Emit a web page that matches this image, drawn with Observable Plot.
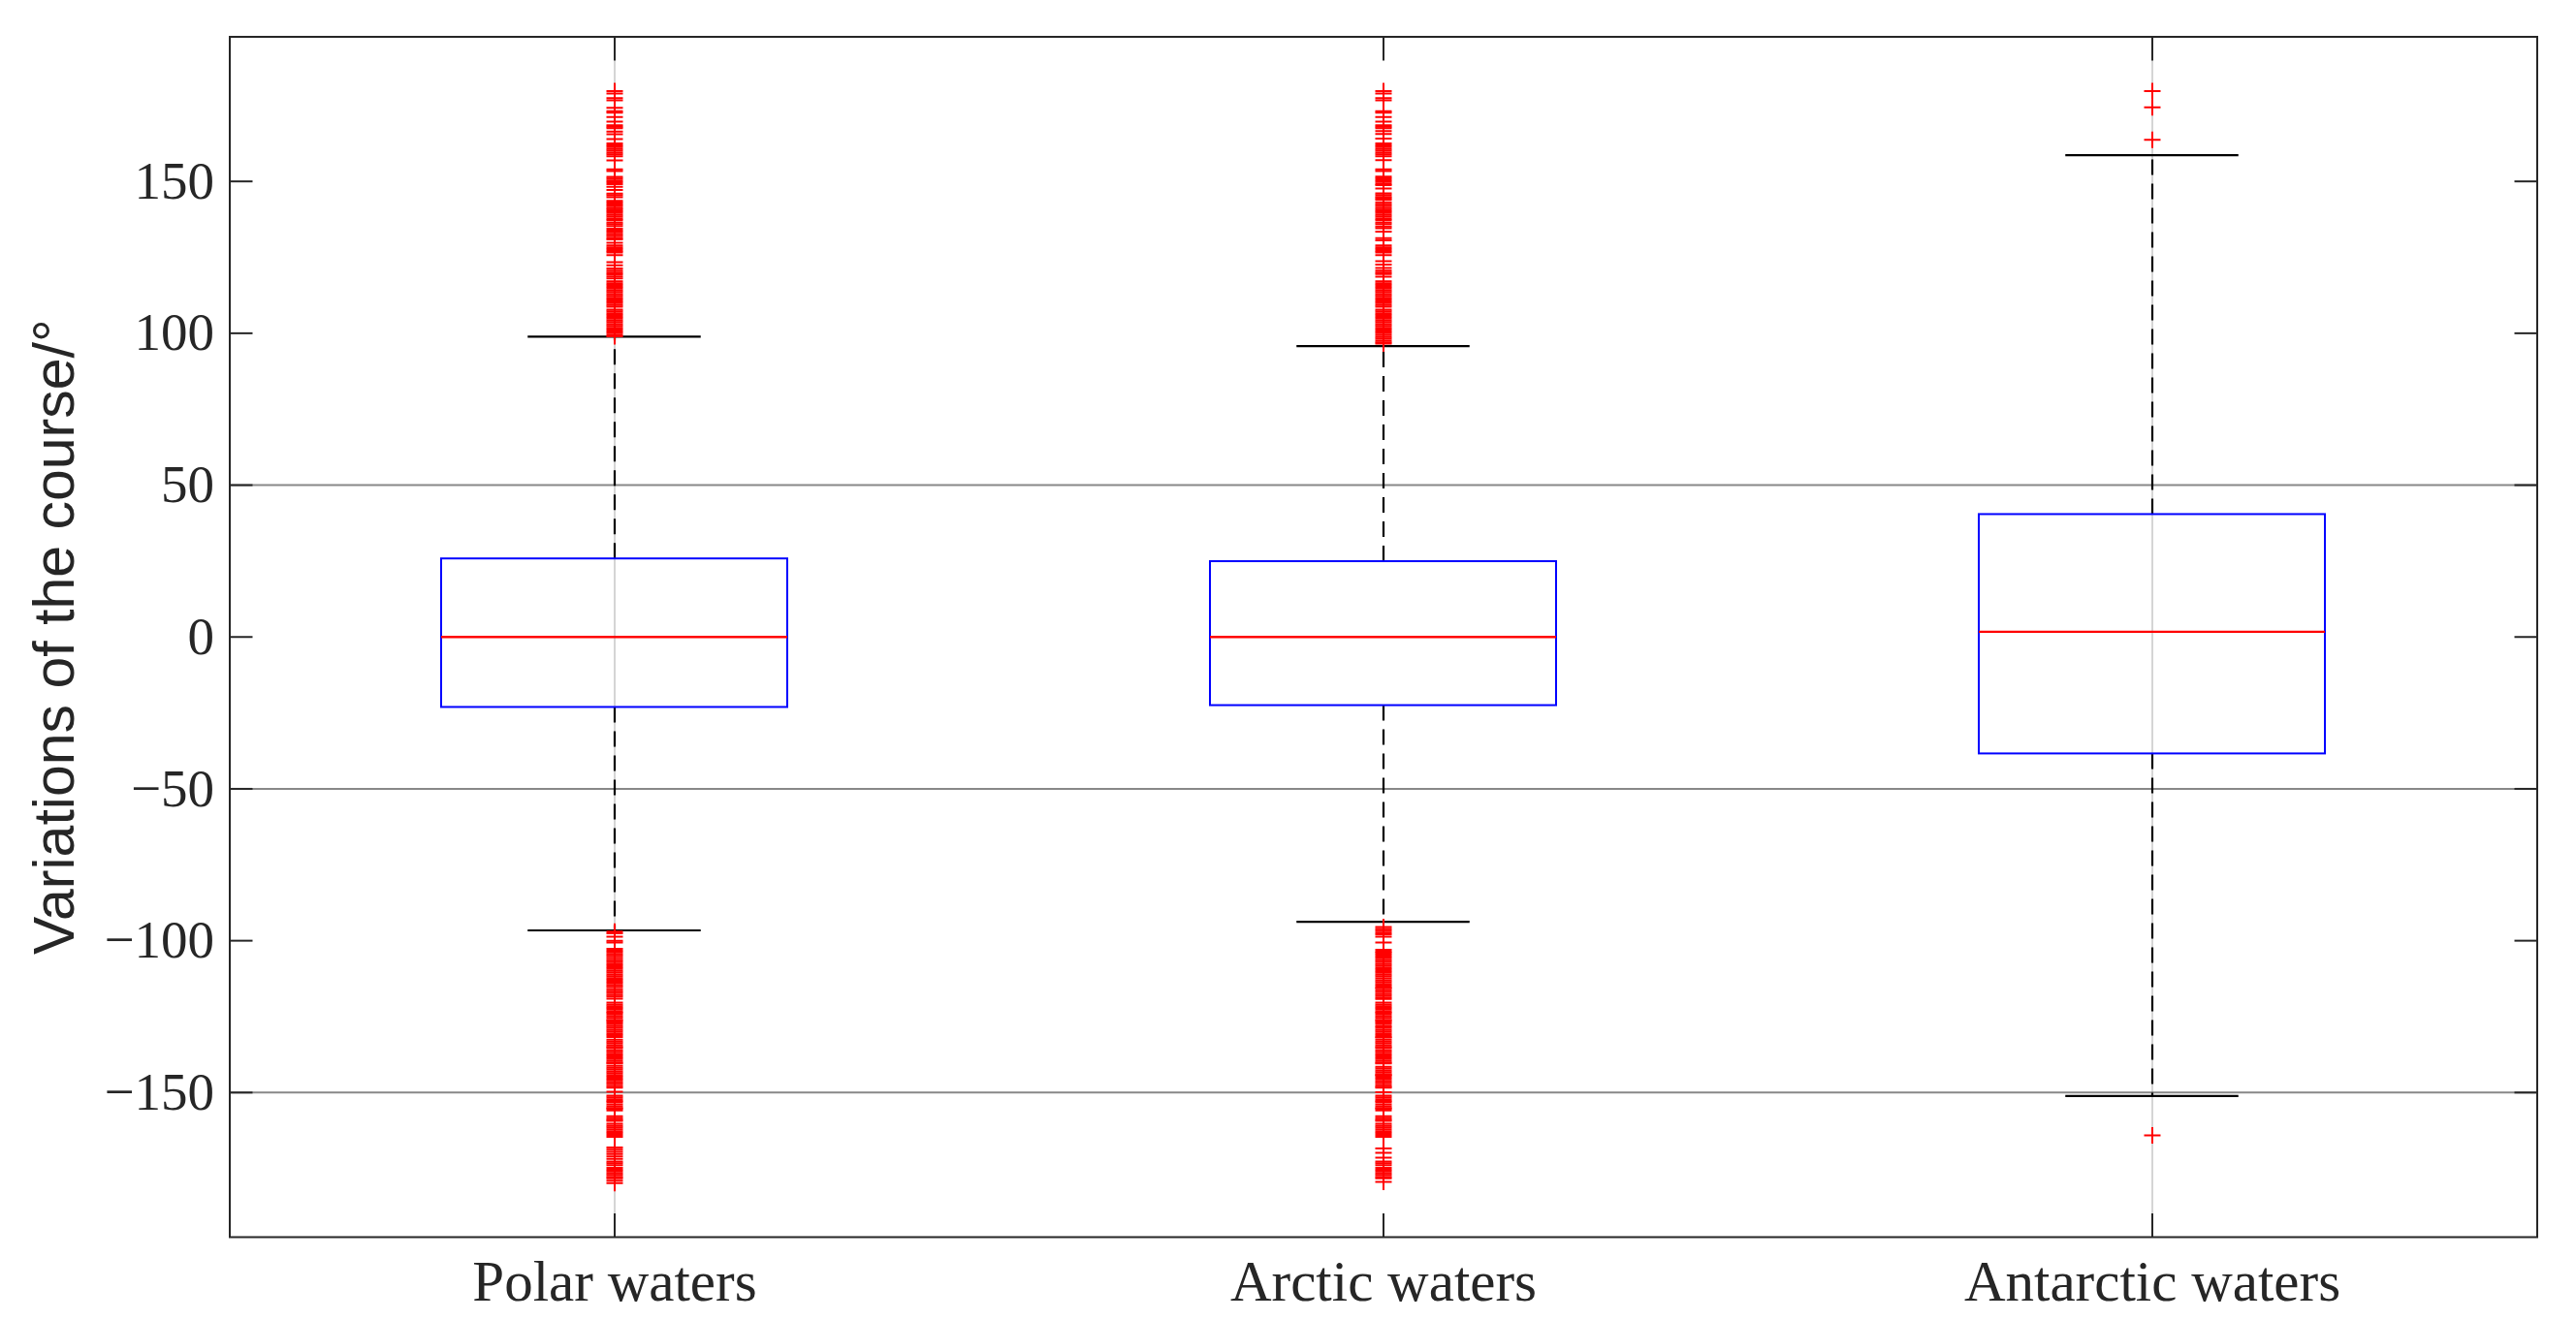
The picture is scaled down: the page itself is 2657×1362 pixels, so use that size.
<!DOCTYPE html>
<html>
<head>
<meta charset="utf-8">
<script src="https://cdn.jsdelivr.net/npm/d3@7"></script>
<script src="https://cdn.jsdelivr.net/npm/@observablehq/plot@0.6"></script>
<style>
  html, body { margin: 0; padding: 0; background: #ffffff; }
  #chart svg { display: block; }
</style>
</head>
<body>
<div id="chart"></div>
<script>
// ---------------- data ----------------
const categories = ["Polar waters", "Arctic waters", "Antarctic waters"];
const q1 = [-23.2, -22.6, -38.5];
const median = [0, 0, 1.7];
const q3 = [25.7, 24.8, 40.3];
const whiskerLow = [-96.6, -93.8, -151.1];
const whiskerHigh = [98.9, 95.8, 158.6];

const yTicks = [-150, -100, -50, 0, 50, 100, 150];
const yGridLines = [50, -50, -150];
const xGridLines = ["Polar waters", "Antarctic waters"];
const yLabel = "Variations of the course/°";

const polarOutliers = [
  179.7,178.9,177.4,176.7,174.2,173.1,172.6,171.2,169.7,168.5,168,167.5,166.4,165.5,163.9,
  162.5,161.9,161.3,160.7,160.1,159.5,158.9,158.3,156.9,154,153.4,
  151.5,150.9,150.3,149.7,149.1,148.2,147.2,146,145.4,144.8,143.6,
  143,142.4,141.8,141.2,140.7,140.2,139.6,139,138.4,137.8,137.3,136.5,135.9,135.3,
  134.4,133.8,133.2,132.6,132,131.4,130.9,129.8,128.9,128.3,127.7,127.1,126.6,
  125.7,123.4,122.4,121.3,120.6,120,119.4,118.7,118.1,
  117.1,116.5,115.9,115.3,114.7,114.1,113.5,112.9,112.3,111.7,111.1,110.5,109.9,109.3,108.7,
  107.8,107.2,106.6,106,105.4,104.8,104.2,103.6,103,102.4,101.8,101.2,100.6,100,99.4,99,
  -97,-97.6,-98.7,-100,-100.6,
  -102.7,-103.3,-103.9,-104.5,-105.1,-105.7,-106.3,-106.9,-107.5,-108.1,-108.7,-109.3,-109.9,
  -110.5,-111.1,-111.7,-112.3,-112.9,-113.5,-114.1,-114.7,-115.3,
  -116,-116.6,-117.2,-117.8,-118.4,-119.1,-120.4,-121,-121.6,-122.1,-122.7,-123.3,-123.7,
  -124.3,-124.9,-125.5,-126.1,-126.4,-126.9,-127.5,-128.1,-128.7,-129.3,-129.9,-130.5,-131.1,-131.7,
  -132.6,-133.2,-133.8,-134.4,-135,-135.3,-136,-136.6,-137.2,-137.8,-138.4,-139,-139.6,-140.2,-140.4,
  -141.2,-141.8,-142.4,-143,-143.6,-144.2,-144.8,-145.4,-146,-146.6,-147.2,-147.8,-148.4,
  -149.7,-151,-151.6,-152.2,-152.8,-153.2,-153.9,-154.5,-155.1,-155.3,-155.9,
  -157.8,-158.4,-159,-159.3,-160.3,-160.9,-161.5,-162.1,-162.7,-163.3,-163.9,-164.6,
  -168.1,-168.8,-169.5,-170.2,-171,-171.8,-172.7,-173.3,-173.9,
  -174.8,-175.4,-176,-176.6,-177.2,-177.8,-178.2,-179,-179.8
];

const arcticOutliers = [
  179.7,178.9,177.4,176.7,173.1,172.6,171.2,169.7,168.5,168,167.5,166.6,165.6,164.1,
  162.5,161.9,161.3,160.7,160.1,159.5,158.9,158.3,157,154,153.4,
  151.6,151,150.4,149.8,149.2,148.8,147.7,146.1,145.5,144.9,144.5,144,
  143.1,142.5,141.9,141.3,140.7,140.2,139.6,139,138.4,137.8,137.3,136.5,135.9,135.1,
  134.6,133.5,131.3,130.6,128.9,128.3,127.7,127.1,126.6,125.7,123.7,122.6,121.5,
  120.6,120,119.5,118.6,
  117.1,116.5,115.9,115.3,114.7,114.1,113.5,112.9,112.3,111.7,111.1,110.5,109.9,109.3,108.7,
  107.8,107.2,106.6,106,105.4,104.8,104.2,103.6,103,102.4,101.8,101.2,100.6,100,99.4,98.8,98.2,97.6,97,96.6,
  -95.5,-96.1,-96.7,-97.3,-97.9,-98.7,-100.6,-103,-103.6,
  -104,-104.6,-105.2,-105.8,-106.4,-107,-107.6,-108.2,-108.8,-109.4,-110,-110.6,-111.2,-111.8,
  -112.4,-113,-113.6,-114.2,-114.8,-115.4,-115.7,
  -116.3,-116.9,-117.5,-118.1,-118.7,-119.2,-120.4,-121,-121.6,-122.1,-122.7,-123.3,-123.7,
  -124.3,-124.9,-125.5,-126.1,-126.4,-126.9,-127.5,-128.2,
  -128.7,-129.3,-129.9,-130.5,-131.1,-131.7,-131.9,-132.6,-133.2,-133.8,-134.4,-135,-135.3,
  -136,-136.6,-137.2,-137.8,-138.4,-139,-139.6,-140.2,-140.4,
  -141.5,-142.1,-142.7,-143.3,-143.9,-144.2,-144.5,-145.1,-145.7,-146.3,-146.9,-147.5,-148.1,-148.4,
  -149.9,-151,-151.6,-152.2,-152.8,-153.2,-153.9,-154.5,-155.1,-155.3,-155.9,
  -157.8,-158.4,-159,-159.3,-160.3,-160.9,-161.5,-162.1,-162.7,-163.3,-163.9,-164.6,
  -168.4,-169.8,-171.4,-172.7,-173.3,-173.9,
  -174.8,-175.4,-176,-176.6,-177.2,-177.8,-178.2,-179.4
];

const antarcticOutliers = [179.7, 174.4, 163.7, -164.1];

// ---------------- build tables ----------------
const stats = categories.map((c, i) => ({
  cat: c, q1: q1[i], med: median[i], q3: q3[i], lo: whiskerLow[i], hi: whiskerHigh[i]
}));
const outliers = [
  ...polarOutliers.map(v => ({cat: categories[0], v})),
  ...arcticOutliers.map(v => ({cat: categories[1], v})),
  ...antarcticOutliers.map(v => ({cat: categories[2], v}))
];

// ---------------- layout ----------------
const W = 2657, H = 1362;
const mL = 236.5, mR = 40.5, mT = 37.5, mB = 86;
const step = (W - mL - mR) / categories.length;
const boxFrac = 0.45;
const capInset = step * boxFrac / 4;
const ink = "#262626";

const plusSymbol = {
  draw(ctx, size) {
    const r = Math.sqrt(size / Math.PI);
    ctx.moveTo(-r, 0); ctx.lineTo(r, 0);
    ctx.moveTo(0, -r); ctx.lineTo(0, r);
  }
};

const fmt = d => d < 0 ? "\u2212" + (-d) : String(d);

const chart = Plot.plot({
  width: W,
  height: H,
  marginLeft: mL,
  marginRight: mR,
  marginTop: mT,
  marginBottom: mB,
  style: {background: "#ffffff", overflow: "visible"},
  x: {type: "band", domain: categories, paddingInner: 1 - boxFrac, paddingOuter: (1 - boxFrac) / 2, align: 0.5},
  y: {domain: [-197.6, 197.6]},
  marks: [
    Plot.ruleY(yGridLines, {stroke: "#111", strokeWidth: 2, strokeDasharray: "1,1"}),
    Plot.ruleX(xGridLines, {stroke: "#555", strokeWidth: 1, strokeDasharray: "1,1"}),
    Plot.ruleX(stats, {x: "cat", y1: "q3", y2: "hi", stroke: "#000", strokeWidth: 2.2, strokeDasharray: "16,9"}),
    Plot.ruleX(stats, {x: "cat", y1: "q1", y2: "lo", stroke: "#000", strokeWidth: 2.2, strokeDasharray: "16,9"}),
    Plot.barY(stats, {x: "cat", y1: "q1", y2: "q3", fill: "none", stroke: "#0000ff", strokeWidth: 2}),
    Plot.tickY(stats, {x: "cat", y: "med", stroke: "#ff0000", strokeWidth: 2.4}),
    Plot.tickY(stats, {x: "cat", y: "hi", stroke: "#000", strokeWidth: 2.2, inset: capInset}),
    Plot.tickY(stats, {x: "cat", y: "lo", stroke: "#000", strokeWidth: 2.2, inset: capInset}),
    Plot.dot(outliers, {x: "cat", y: "v", symbol: plusSymbol, r: 8.5, stroke: "#ff0000", fill: "none", strokeWidth: 2}),
    Plot.frame({stroke: ink, strokeWidth: 2}),
    Plot.axisY({anchor: "left", ticks: yTicks, tickSize: -24, tickPadding: 40, tickFormat: fmt,
      fontSize: 55, fontFamily: "Liberation Serif", color: ink, strokeWidth: 2, label: null}),
    Plot.axisY({anchor: "right", ticks: yTicks, tickSize: -24, tickFormat: () => "", color: ink, strokeWidth: 2, label: null}),
    Plot.axisX({anchor: "bottom", tickSize: -24, tickPadding: 48, fontSize: 59, fontFamily: "Liberation Serif",
      color: ink, strokeWidth: 2, label: null}),
    Plot.axisX({anchor: "top", tickSize: -24, tickFormat: () => "", color: ink, strokeWidth: 2, label: null}),
    Plot.text([yLabel], {text: d => d, frameAnchor: "left", rotate: -90, lineAnchor: "top", textAnchor: "middle",
      dx: -(mL - 34), fontSize: 59, fontFamily: "Liberation Sans", fill: ink})
  ]
});
document.getElementById("chart").appendChild(chart);
</script>
</body>
</html>
